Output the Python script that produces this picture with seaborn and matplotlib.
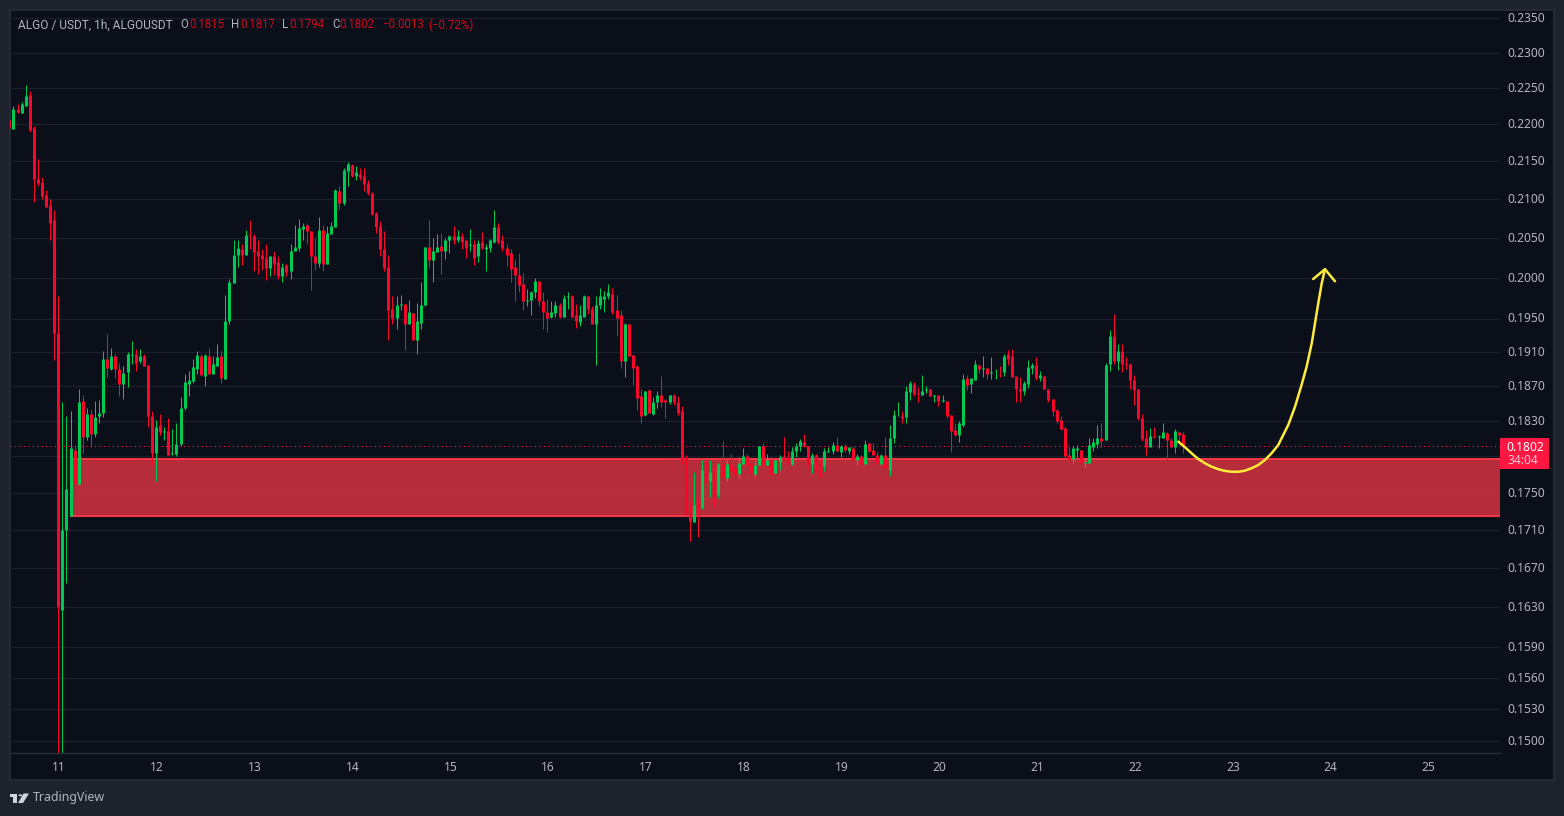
import matplotlib
matplotlib.use('Agg')
import matplotlib.pyplot as plt
import matplotlib.patches as mpatches
from matplotlib.ticker import NullLocator, NullFormatter
from matplotlib.transforms import ScaledTranslation
import pandas as pd
import seaborn as sns

# hours counted from the 11th at 00:00, one candle per hour
first_hour = -12

opens = [
    0.2206, 0.2194, 0.2221, 0.2216, 0.2225, 0.2241, 0.2195, 0.2127, 0.2122, 0.2106, 0.2092, 0.2073,
    0.1933, 0.1627, 0.1710, 0.1725, 0.1797, 0.1760, 0.1853, 0.1812, 0.1838, 0.1815, 0.1835, 0.1839,
    0.1902, 0.1890, 0.1905, 0.1890, 0.1872, 0.1886, 0.1906, 0.1907, 0.1899, 0.1905, 0.1895, 0.1835,
    0.1794, 0.1825, 0.1817, 0.1818, 0.1793, 0.1793, 0.1804, 0.1845, 0.1872, 0.1876, 0.1890, 0.1905,
    0.1882, 0.1905, 0.1884, 0.1893, 0.1905, 0.1878, 0.1947, 0.1993, 0.2028, 0.2036, 0.2028, 0.2054,
    0.2052, 0.2034, 0.2028, 0.2025, 0.2012, 0.2027, 0.2020, 0.2002, 0.2016, 0.2009, 0.2033, 0.2037,
    0.2062, 0.2067, 0.2059, 0.2027, 0.2019, 0.2060, 0.2017, 0.2055, 0.2064, 0.2111, 0.2095, 0.2137,
    0.2145, 0.2131, 0.2133, 0.2131, 0.2121, 0.2108, 0.2082, 0.2065, 0.2036, 0.2014, 0.1962, 0.1951,
    0.1966, 0.1968, 0.1944, 0.1957, 0.1924, 0.1945, 0.1966, 0.2039, 0.2022, 0.2032, 0.2040, 0.2034,
    0.2047, 0.2052, 0.2047, 0.2053, 0.2047, 0.2041, 0.2043, 0.2027, 0.2045, 0.2036, 0.2037, 0.2045,
    0.2064, 0.2047, 0.2038, 0.2031, 0.2014, 0.2004, 0.1992, 0.1972, 0.1973, 0.1982, 0.1996, 0.1972,
    0.1958, 0.1952, 0.1957, 0.1966, 0.1952, 0.1976, 0.1977, 0.1954, 0.1946, 0.1952, 0.1978, 0.1962,
    0.1944, 0.1966, 0.1974, 0.1977, 0.1980, 0.1960, 0.1954, 0.1899, 0.1944, 0.1906, 0.1893, 0.1858,
    0.1837, 0.1865, 0.1838, 0.1851, 0.1860, 0.1854, 0.1851, 0.1860, 0.1852, 0.1841, 0.1789, 0.1731,
    0.1719, 0.1737, 0.1733, 0.1775, 0.1763, 0.1773, 0.1748, 0.1782, 0.1766, 0.1782, 0.1777, 0.1771,
    0.1782, 0.1790, 0.1782, 0.1771, 0.1781, 0.1802, 0.1780, 0.1786, 0.1772, 0.1784, 0.1790, 0.1789,
    0.1782, 0.1796, 0.1802, 0.1806, 0.1802, 0.1782, 0.1791, 0.1783, 0.1779, 0.1795, 0.1796, 0.1803,
    0.1795, 0.1802, 0.1796, 0.1799, 0.1786, 0.1790, 0.1782, 0.1805, 0.1797, 0.1792, 0.1782, 0.1792,
    0.1775, 0.1811, 0.1835, 0.1836, 0.1834, 0.1863, 0.1872, 0.1862, 0.1860, 0.1865, 0.1866, 0.1858,
    0.1860, 0.1853, 0.1853, 0.1837, 0.1820, 0.1814, 0.1825, 0.1879, 0.1872, 0.1877, 0.1895, 0.1890,
    0.1891, 0.1885, 0.1887, 0.1888, 0.1886, 0.1907, 0.1905, 0.1882, 0.1866, 0.1864, 0.1872, 0.1891,
    0.1895, 0.1879, 0.1882, 0.1866, 0.1855, 0.1842, 0.1831, 0.1822, 0.1791, 0.1787, 0.1797, 0.1797,
    0.1783, 0.1783, 0.1801, 0.1804, 0.1811, 0.1808, 0.1896, 0.1929, 0.1899, 0.1911, 0.1897, 0.1896,
    0.1877, 0.1866, 0.1833, 0.1811, 0.1801, 0.1813, 0.1812, 0.1811, 0.1816, 0.1808, 0.1801, 0.1817,
    0.1815,
]
highs = [
    0.2209, 0.2225, 0.2228, 0.2231, 0.2255, 0.2246, 0.2198, 0.2153, 0.2129, 0.2112, 0.2100, 0.2086,
    0.1978, 0.1851, 0.1835, 0.1841, 0.1803, 0.1866, 0.1860, 0.1845, 0.1844, 0.1853, 0.1854, 0.1911,
    0.1932, 0.1915, 0.1908, 0.1897, 0.1893, 0.1910, 0.1923, 0.1914, 0.1914, 0.1908, 0.1895, 0.1841,
    0.1831, 0.1838, 0.1823, 0.1833, 0.1821, 0.1828, 0.1857, 0.1884, 0.1888, 0.1902, 0.1911, 0.1907,
    0.1907, 0.1915, 0.1905, 0.1920, 0.1911, 0.1979, 0.1999, 0.2048, 0.2047, 0.2043, 0.2060, 0.2073,
    0.2055, 0.2048, 0.2036, 0.2042, 0.2027, 0.2033, 0.2027, 0.2019, 0.2017, 0.2043, 0.2067, 0.2074,
    0.2069, 0.2069, 0.2059, 0.2050, 0.2077, 0.2067, 0.2065, 0.2070, 0.2113, 0.2117, 0.2141, 0.2149,
    0.2147, 0.2144, 0.2141, 0.2141, 0.2125, 0.2109, 0.2083, 0.2072, 0.2059, 0.2028, 0.1978, 0.1978,
    0.1979, 0.1968, 0.1973, 0.1957, 0.1969, 0.1995, 0.2039, 0.2073, 0.2050, 0.2055, 0.2057, 0.2050,
    0.2054, 0.2065, 0.2060, 0.2057, 0.2048, 0.2062, 0.2047, 0.2048, 0.2058, 0.2043, 0.2049, 0.2086,
    0.2069, 0.2054, 0.2043, 0.2036, 0.2024, 0.2031, 0.2006, 0.1986, 0.1984, 0.2000, 0.1996, 0.1982,
    0.1974, 0.1972, 0.1971, 0.1969, 0.1979, 0.1983, 0.1979, 0.1968, 0.1966, 0.1979, 0.1978, 0.1965,
    0.1977, 0.1988, 0.1984, 0.1992, 0.1987, 0.1979, 0.1960, 0.1945, 0.1944, 0.1906, 0.1895, 0.1866,
    0.1864, 0.1866, 0.1857, 0.1864, 0.1882, 0.1855, 0.1860, 0.1861, 0.1858, 0.1847, 0.1792, 0.1740,
    0.1773, 0.1743, 0.1786, 0.1786, 0.1786, 0.1781, 0.1783, 0.1807, 0.1786, 0.1793, 0.1784, 0.1789,
    0.1799, 0.1793, 0.1782, 0.1786, 0.1802, 0.1805, 0.1793, 0.1786, 0.1786, 0.1792, 0.1812, 0.1796,
    0.1801, 0.1805, 0.1810, 0.1815, 0.1802, 0.1794, 0.1793, 0.1786, 0.1799, 0.1800, 0.1806, 0.1812,
    0.1803, 0.1804, 0.1800, 0.1802, 0.1793, 0.1792, 0.1808, 0.1805, 0.1805, 0.1795, 0.1793, 0.1812,
    0.1825, 0.1842, 0.1851, 0.1841, 0.1870, 0.1876, 0.1875, 0.1869, 0.1883, 0.1870, 0.1866, 0.1860,
    0.1860, 0.1860, 0.1853, 0.1837, 0.1828, 0.1830, 0.1884, 0.1883, 0.1879, 0.1900, 0.1896, 0.1905,
    0.1891, 0.1904, 0.1890, 0.1893, 0.1908, 0.1912, 0.1914, 0.1882, 0.1881, 0.1876, 0.1900, 0.1897,
    0.1904, 0.1888, 0.1882, 0.1866, 0.1855, 0.1843, 0.1836, 0.1823, 0.1800, 0.1802, 0.1803, 0.1797,
    0.1787, 0.1811, 0.1811, 0.1825, 0.1827, 0.1897, 0.1936, 0.1956, 0.1920, 0.1920, 0.1904, 0.1897,
    0.1883, 0.1866, 0.1838, 0.1820, 0.1822, 0.1823, 0.1814, 0.1828, 0.1817, 0.1811, 0.1821, 0.1819,
    0.1817,
]
lows = [
    0.2193, 0.2194, 0.2216, 0.2216, 0.2225, 0.2189, 0.2096, 0.2117, 0.2100, 0.2090, 0.2047, 0.1900,
    0.1450, 0.1450, 0.1655, 0.1725, 0.1742, 0.1759, 0.1794, 0.1808, 0.1801, 0.1812, 0.1827, 0.1834,
    0.1881, 0.1889, 0.1879, 0.1858, 0.1855, 0.1869, 0.1896, 0.1888, 0.1897, 0.1893, 0.1823, 0.1781,
    0.1763, 0.1814, 0.1808, 0.1792, 0.1792, 0.1790, 0.1802, 0.1842, 0.1858, 0.1873, 0.1884, 0.1883,
    0.1870, 0.1884, 0.1884, 0.1893, 0.1873, 0.1878, 0.1944, 0.1993, 0.2014, 0.2016, 0.2028, 0.2036,
    0.2009, 0.2005, 0.2010, 0.1997, 0.2002, 0.2004, 0.1999, 0.1995, 0.2002, 0.1999, 0.2033, 0.2033,
    0.2047, 0.2043, 0.1985, 0.2010, 0.2014, 0.2009, 0.2017, 0.2055, 0.2064, 0.2087, 0.2092, 0.2118,
    0.2129, 0.2125, 0.2125, 0.2111, 0.2106, 0.2079, 0.2057, 0.2027, 0.2009, 0.1924, 0.1943, 0.1938,
    0.1960, 0.1912, 0.1944, 0.1924, 0.1908, 0.1938, 0.1965, 0.2014, 0.1995, 0.2032, 0.2005, 0.2024,
    0.2031, 0.2042, 0.2045, 0.2036, 0.2025, 0.2033, 0.2016, 0.2020, 0.2036, 0.2009, 0.2032, 0.2044,
    0.2043, 0.2033, 0.2015, 0.1995, 0.1971, 0.1982, 0.1961, 0.1965, 0.1954, 0.1975, 0.1965, 0.1938,
    0.1934, 0.1951, 0.1952, 0.1951, 0.1952, 0.1962, 0.1952, 0.1939, 0.1941, 0.1952, 0.1956, 0.1943,
    0.1895, 0.1962, 0.1958, 0.1974, 0.1955, 0.1929, 0.1891, 0.1881, 0.1905, 0.1871, 0.1842, 0.1828,
    0.1835, 0.1839, 0.1837, 0.1845, 0.1846, 0.1833, 0.1849, 0.1848, 0.1837, 0.1782, 0.1726, 0.1698,
    0.1718, 0.1703, 0.1732, 0.1761, 0.1745, 0.1735, 0.1744, 0.1762, 0.1763, 0.1773, 0.1762, 0.1766,
    0.1782, 0.1773, 0.1768, 0.1767, 0.1781, 0.1778, 0.1780, 0.1771, 0.1772, 0.1775, 0.1785, 0.1782,
    0.1781, 0.1789, 0.1796, 0.1801, 0.1779, 0.1772, 0.1772, 0.1767, 0.1774, 0.1795, 0.1793, 0.1796,
    0.1789, 0.1795, 0.1793, 0.1781, 0.1781, 0.1781, 0.1782, 0.1795, 0.1791, 0.1782, 0.1782, 0.1775,
    0.1768, 0.1805, 0.1835, 0.1827, 0.1828, 0.1854, 0.1858, 0.1852, 0.1860, 0.1862, 0.1858, 0.1851,
    0.1847, 0.1852, 0.1833, 0.1795, 0.1813, 0.1806, 0.1823, 0.1865, 0.1862, 0.1877, 0.1885, 0.1881,
    0.1878, 0.1878, 0.1878, 0.1881, 0.1882, 0.1895, 0.1881, 0.1852, 0.1852, 0.1860, 0.1868, 0.1884,
    0.1877, 0.1876, 0.1866, 0.1852, 0.1836, 0.1828, 0.1820, 0.1787, 0.1785, 0.1783, 0.1789, 0.1774,
    0.1778, 0.1783, 0.1796, 0.1799, 0.1800, 0.1808, 0.1888, 0.1896, 0.1889, 0.1886, 0.1890, 0.1866,
    0.1848, 0.1831, 0.1807, 0.1792, 0.1801, 0.1811, 0.1799, 0.1811, 0.1786, 0.1801, 0.1794, 0.1807,
    0.1794,
]
closes = [
    0.2195, 0.2221, 0.2217, 0.2228, 0.2239, 0.2193, 0.2127, 0.2121, 0.2104, 0.2090, 0.2069, 0.1933,
    0.1630, 0.1710, 0.1754, 0.1799, 0.1760, 0.1852, 0.1812, 0.1838, 0.1815, 0.1834, 0.1839, 0.1902,
    0.1891, 0.1905, 0.1890, 0.1872, 0.1885, 0.1907, 0.1907, 0.1897, 0.1905, 0.1893, 0.1835, 0.1794,
    0.1823, 0.1817, 0.1818, 0.1792, 0.1794, 0.1804, 0.1845, 0.1875, 0.1877, 0.1892, 0.1906, 0.1883,
    0.1906, 0.1884, 0.1896, 0.1904, 0.1879, 0.1947, 0.1995, 0.2029, 0.2037, 0.2028, 0.2054, 0.2053,
    0.2032, 0.2027, 0.2024, 0.2012, 0.2027, 0.2017, 0.2002, 0.2014, 0.2007, 0.2034, 0.2039, 0.2063,
    0.2065, 0.2059, 0.2027, 0.2019, 0.2060, 0.2017, 0.2057, 0.2065, 0.2112, 0.2095, 0.2139, 0.2147,
    0.2131, 0.2136, 0.2129, 0.2120, 0.2108, 0.2081, 0.2064, 0.2036, 0.2012, 0.1960, 0.1951, 0.1966,
    0.1968, 0.1943, 0.1958, 0.1924, 0.1947, 0.1966, 0.2039, 0.2022, 0.2033, 0.2039, 0.2034, 0.2047,
    0.2052, 0.2048, 0.2053, 0.2045, 0.2038, 0.2042, 0.2025, 0.2044, 0.2037, 0.2039, 0.2047, 0.2064,
    0.2045, 0.2037, 0.2029, 0.2011, 0.2004, 0.1991, 0.1971, 0.1973, 0.1983, 0.1996, 0.1971, 0.1958,
    0.1951, 0.1958, 0.1966, 0.1952, 0.1975, 0.1977, 0.1952, 0.1947, 0.1954, 0.1978, 0.1962, 0.1944,
    0.1966, 0.1977, 0.1978, 0.1982, 0.1958, 0.1951, 0.1899, 0.1944, 0.1905, 0.1891, 0.1856, 0.1836,
    0.1864, 0.1839, 0.1852, 0.1860, 0.1852, 0.1851, 0.1860, 0.1851, 0.1839, 0.1785, 0.1729, 0.1720,
    0.1737, 0.1732, 0.1775, 0.1762, 0.1773, 0.1748, 0.1782, 0.1767, 0.1782, 0.1774, 0.1769, 0.1783,
    0.1790, 0.1781, 0.1772, 0.1781, 0.1802, 0.1781, 0.1786, 0.1771, 0.1786, 0.1789, 0.1786, 0.1782,
    0.1796, 0.1802, 0.1807, 0.1802, 0.1783, 0.1791, 0.1782, 0.1779, 0.1796, 0.1796, 0.1803, 0.1796,
    0.1802, 0.1797, 0.1800, 0.1786, 0.1790, 0.1782, 0.1804, 0.1796, 0.1791, 0.1783, 0.1792, 0.1777,
    0.1811, 0.1837, 0.1836, 0.1833, 0.1864, 0.1873, 0.1861, 0.1861, 0.1864, 0.1866, 0.1858, 0.1860,
    0.1853, 0.1854, 0.1835, 0.1818, 0.1814, 0.1828, 0.1878, 0.1871, 0.1879, 0.1896, 0.1890, 0.1891,
    0.1884, 0.1886, 0.1888, 0.1887, 0.1905, 0.1902, 0.1881, 0.1866, 0.1864, 0.1873, 0.1892, 0.1895,
    0.1879, 0.1883, 0.1866, 0.1854, 0.1841, 0.1830, 0.1821, 0.1790, 0.1786, 0.1799, 0.1799, 0.1783,
    0.1784, 0.1803, 0.1806, 0.1811, 0.1807, 0.1895, 0.1929, 0.1899, 0.1911, 0.1896, 0.1896, 0.1877,
    0.1865, 0.1833, 0.1810, 0.1801, 0.1813, 0.1812, 0.1813, 0.1817, 0.1808, 0.1801, 0.1818, 0.1814,
    0.1802,
]

day_labels = ['11', '12', '13', '14', '15', '16', '17', '18', '19', '20', '21', '22', '23', '24', '25']
price_ticks = [0.2350, 0.2300, 0.2250, 0.2200, 0.2150, 0.2100, 0.2050, 0.2000, 0.1950, 0.1910, 0.1870,
               0.1830, 0.1790, 0.1750, 0.1710, 0.1670, 0.1630, 0.1590, 0.1560, 0.1530, 0.1500]
hidden_tick = 0.1790

zone_low = 0.1725
zone_high = 0.1787
zone_start_hour = 3.1
last_price = 0.1802

# the hand drawn arrow
arrow_hours = [274.85, 276.5, 278.1, 279.75, 281.4, 283.0, 284.7, 286.3, 287.95, 289.6, 291.2, 292.85,
               294.5, 296.1, 297.75, 299.4, 300.2, 301.85, 303.5, 305.1, 306.35, 307.6, 308.4, 309.2,
               310.05, 310.85]
arrow_prices = [0.18065, 0.18002, 0.17935, 0.17871, 0.17824, 0.17786, 0.17758, 0.17739, 0.17730, 0.17730,
                0.17742, 0.17769, 0.17805, 0.17860, 0.17935, 0.18028, 0.18103, 0.18254, 0.18462, 0.18712,
                0.18927, 0.19203, 0.19443, 0.19686, 0.19932, 0.20107]
head_hours = [307.95, 310.85, 313.3]
head_prices = [0.19985, 0.20107, 0.19957]

W, H = 1564, 816
BG_OUT = '#1e222d'
BG_IN = '#0a0f1a'
BORDER = '#2a2e39'
GRID = '#1a1f2b'
TXT = '#b2b5be'
GREEN = '#00c853'
RED = '#f7082a'
BOX = '#ff1744'
HEAD_RED = '#cc0a1e'
YELLOW = '#ffeb3b'

sns.set_theme(style='dark')
plt.rcParams['font.family'] = ['Noto Sans', 'DejaVu Sans']
FS = 8.64


def fx(px):
    return px / W


def fy(py):
    return 1 - py / H


candles = pd.DataFrame({'open': opens, 'high': highs, 'low': lows, 'close': closes})
candles['hour'] = range(first_hour, first_hour + len(candles))
candles['side'] = ['up' if c >= o else 'down' for o, c in zip(opens, closes)]
wicks = candles.melt(id_vars=['hour', 'side'], value_vars=['low', 'high'], value_name='price')
bodies = candles.melt(id_vars=['hour', 'side'], value_vars=['open', 'close'], value_name='price')
palette = {'up': GREEN, 'down': RED}

fig = plt.figure(figsize=(W / 100, H / 100), dpi=100, facecolor=BG_OUT)

# dark panel holding the plot, the price scale and the time scale
panel = fig.add_axes([fx(10), fy(780), fx(1544), (780 - 10) / H], facecolor=BG_IN)
panel.set_xticks([])
panel.set_yticks([])
for s in panel.spines.values():
    s.set_color(BORDER)
    s.set_linewidth(1.2)

ax = fig.add_axes([fx(10), fy(753), fx(1490), (753 - 10) / H], facecolor='none')
ax.set_yscale('log')

ax.add_patch(mpatches.Rectangle((zone_start_hour, zone_low), 400, zone_high - zone_low,
                                facecolor=(242 / 255, 54 / 255, 69 / 255, 0.75),
                                edgecolor='#f23645', linewidth=1.5, zorder=1.5))
ax.axhline(last_price, color=BOX, lw=0.8, ls=(0, (1, 3)), zorder=1.6)

for part, width in [(wicks, 0.72), (bodies, 2.2)]:
    sns.lineplot(data=part, x='hour', y='price', units='hour', estimator=None, hue='side',
                 palette=palette, linewidth=width, legend=False, sort=False, ax=ax,
                 solid_capstyle='butt', zorder=2)

for xs, ys in [(arrow_hours, arrow_prices), (head_hours, head_prices)]:
    sns.lineplot(x=xs, y=ys, estimator=None, sort=False, color=YELLOW, linewidth=1.8, ax=ax,
                 solid_joinstyle='round', solid_capstyle='round', zorder=3)

ax.set_xlim(-11.85, 353.8)
ax.set_ylim(0.14888, 0.23620)
ax.set_xlabel('')
ax.set_ylabel('')
ax.set_xticks([24 * i for i in range(len(day_labels))])
ax.set_xticklabels(day_labels, color=TXT, fontsize=FS)
ax.yaxis.tick_right()
ax.set_yticks(price_ticks)
ax.set_yticklabels(['' if p == hidden_tick else f'{p:.4f}' for p in price_ticks], color=TXT, fontsize=FS)
ax.yaxis.set_minor_locator(NullLocator())
ax.yaxis.set_minor_formatter(NullFormatter())
ax.tick_params(axis='x', length=0, pad=6)
ax.tick_params(axis='y', length=0, pad=5)
ax.grid(axis='y', color=GRID, lw=0.9)
ax.grid(axis='x', visible=False)
ax.set_axisbelow(True)
for name, s in ax.spines.items():
    s.set_visible(name == 'bottom')
    s.set_color(BORDER)
    s.set_linewidth(1.0)

# nudge the scale labels one pixel
for lab in ax.get_yticklabels():
    lab.set_transform(lab.get_transform() + ScaledTranslation(0, 1.2 / 100, fig.dpi_scale_trans))
for lab in ax.get_xticklabels():
    lab.set_transform(lab.get_transform() + ScaledTranslation(1 / 100, 0, fig.dpi_scale_trans))

# legend line on top of the chart
header = [(18, 'ALGO / USDT, 1h, ALGOUSDT', TXT, 8.6), (180, 'O', TXT, 8.3), (189, '0.1815', HEAD_RED, 8.3),
          (231, 'H', TXT, 8.3), (240, '0.1817', HEAD_RED, 8.3), (282, 'L', TXT, 8.3),
          (289, '0.1794', HEAD_RED, 8.3), (332, 'C', TXT, 8.3), (339, '0.1802', HEAD_RED, 8.3),
          (382, '\u22120.0013', HEAD_RED, 8.3), (428, '(\u22120.72%)', HEAD_RED, 8.3)]
for px, label, col, size in header:
    fig.text(fx(px), fy(25), label, color=col, fontsize=size, family='Roboto', va='center', ha='left')

# price tag on the scale
fig.add_artist(mpatches.Rectangle((fx(1500), fy(469)), fx(49), 31 / H, transform=fig.transFigure,
                                  facecolor=BOX, edgecolor='none', zorder=5))
fig.text(fx(1525), fy(447), '0.1802', color='white', fontsize=FS, fontweight='bold', ha='center',
         va='center', zorder=6)
fig.text(fx(1523), fy(461), '34:04', color='#ffc0cc', fontsize=FS, ha='center', va='center', zorder=6)

# TradingView mark
logo = [[(10, 793.5), (17, 793.5), (17, 803), (13.5, 803), (13.5, 797), (10, 797)],
        [(23.5, 793.5), (29, 793.5), (23, 803), (18, 803)]]
for pts in logo:
    fig.add_artist(mpatches.Polygon([(fx(a), fy(b)) for a, b in pts], closed=True,
                                    transform=fig.transFigure, facecolor='#d1d4dc', edgecolor='none'))
fig.add_artist(mpatches.Circle((fx(20.3), fy(795.3)), 1.8 / W, transform=fig.transFigure,
                               facecolor='#d1d4dc', edgecolor='none'))
fig.text(fx(33), fy(798), 'TradingView', color=TXT, fontsize=8.9, ha='left', va='center')

fig.savefig('out.png', dpi=100, facecolor=fig.get_facecolor())
